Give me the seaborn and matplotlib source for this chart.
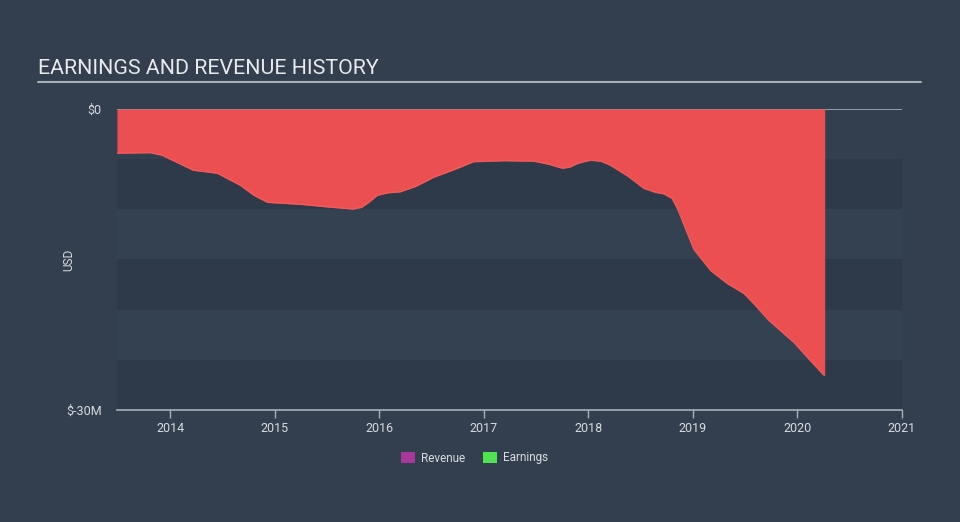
import matplotlib
matplotlib.use("Agg")
import matplotlib.pyplot as plt
import seaborn as sns
import pandas as pd
from matplotlib.patches import Rectangle

# ---- data (USD millions) ----
years = [2013.49, 2013.81, 2013.92, 2014.00, 2014.10, 2014.22, 2014.45, 2014.67, 2014.80,
         2014.93, 2015.25, 2015.50, 2015.75, 2015.83, 2015.90, 2015.98, 2016.08, 2016.20,
         2016.35, 2016.52, 2016.70, 2016.82, 2016.90, 2017.20, 2017.48, 2017.62, 2017.75,
         2017.82, 2017.90, 2018.02, 2018.12, 2018.21, 2018.38, 2018.53, 2018.64, 2018.72,
         2018.80, 2018.86, 2018.94, 2019.01, 2019.17, 2019.33, 2019.49, 2019.60, 2019.72,
         2019.85, 2019.97, 2020.10, 2020.25]
earnings = [-4.4, -4.35, -4.6, -5.0, -5.5, -6.1, -6.4, -7.6, -8.6,
            -9.3, -9.5, -9.75, -9.97, -9.8, -9.3, -8.6, -8.35, -8.25,
            -7.7, -6.8, -6.1, -5.6, -5.25, -5.15, -5.2, -5.5, -5.9,
            -5.8, -5.4, -5.1, -5.2, -5.6, -6.7, -7.9, -8.3, -8.45,
            -8.9, -10.1, -12.2, -14.0, -16.1, -17.4, -18.4, -19.6, -21.0,
            -22.2, -23.3, -24.8, -26.5]
x_ticks = [2014, 2015, 2016, 2017, 2018, 2019, 2020, 2021]
y_ticks = [0, -30]
y_tick_labels = ["$0", "$-30M"]
legend_labels = ["Revenue", "Earnings"]
legend_colors = ["#a8379a", "#4fe34f"]

df = pd.DataFrame({"year": years, "earnings": earnings})

BG = "#333f4e"
DARK = "#2e3a49"
LIGHT = "#344150"
RED = "#eb4f52"
TXT = "#d8dce0"
AXC = "#a7b0ba"

sns.set_theme(style="dark")
plt.rcParams["font.family"] = ["Roboto", "DejaVu Sans"]

fig = plt.figure(figsize=(9.6, 5.22), dpi=100, facecolor=BG)
ax = fig.add_axes([117 / 960, 1 - 410 / 522, 785 / 960, 301 / 522])
ax.set_facecolor(LIGHT)

# alternating bands
for lo, hi, c in [(-5, 0, BG), (-10, -5, DARK), (-15, -10, LIGHT),
                  (-20, -15, DARK), (-25, -20, LIGHT), (-30, -25, DARK)]:
    ax.axhspan(lo, hi, color=c, lw=0, zorder=0)

# zero line (visible right of the data)
ax.axhline(0, color=AXC, lw=1.2, zorder=1)

ax.fill_between(df["year"], df["earnings"], 0, color=RED, lw=0, zorder=2)
sns.lineplot(data=df, x="year", y="earnings", ax=ax, color="#f25a5c", lw=1.0, zorder=3)
ax.plot([years[-1], years[-1]], [earnings[-1], 0], color=RED, lw=1, zorder=3)

ax.set_xlim(2013.49, 2021.0)
ax.set_ylim(-30, 0)
ax.set_xticks(x_ticks)
ax.set_xticklabels([str(t) for t in x_ticks], color=TXT, fontsize=9)
ax.set_yticks(y_ticks)
ax.set_yticklabels(y_tick_labels, color=TXT, fontsize=9)
ax.tick_params(axis="x", length=6, width=1, color=AXC, pad=3, direction="out", bottom=True)
ax.tick_params(axis="y", length=0, pad=11)
ax.set_xlabel("")
ax.set_ylabel("USD", color=TXT, fontsize=8.5)
ax.yaxis.set_label_coords((75 - 117) / 785, 0.5)
ax.grid(False)
for s in ["top", "right", "left"]:
    ax.spines[s].set_visible(False)
ax.spines["bottom"].set_color(AXC)
ax.spines["bottom"].set_linewidth(1.2)
if ax.get_legend() is not None:
    ax.get_legend().remove()

# title and underline
fig.text(38 / 960, 1 - 69 / 522, "EARNINGS AND REVENUE HISTORY", color="#e8eaec",
         fontsize=15.4, va="center", ha="left")
fig.add_artist(plt.Line2D([38 / 960, 921 / 960], [1 - 82 / 522, 1 - 82 / 522],
                          color="#a9afb6", lw=1.5, transform=fig.transFigure))

# legend
for x0, lab, col in zip([401, 483], legend_labels, legend_colors):
    fig.add_artist(Rectangle((x0 / 960, 1 - 463 / 522), 14 / 960, 11 / 522,
                             transform=fig.transFigure, color=col, lw=0))
    fig.text((x0 + 20) / 960, 1 - 458 / 522, lab, color=TXT, fontsize=8.5,
             va="center", ha="left")

fig.savefig("out.png", dpi=100, facecolor=BG)
